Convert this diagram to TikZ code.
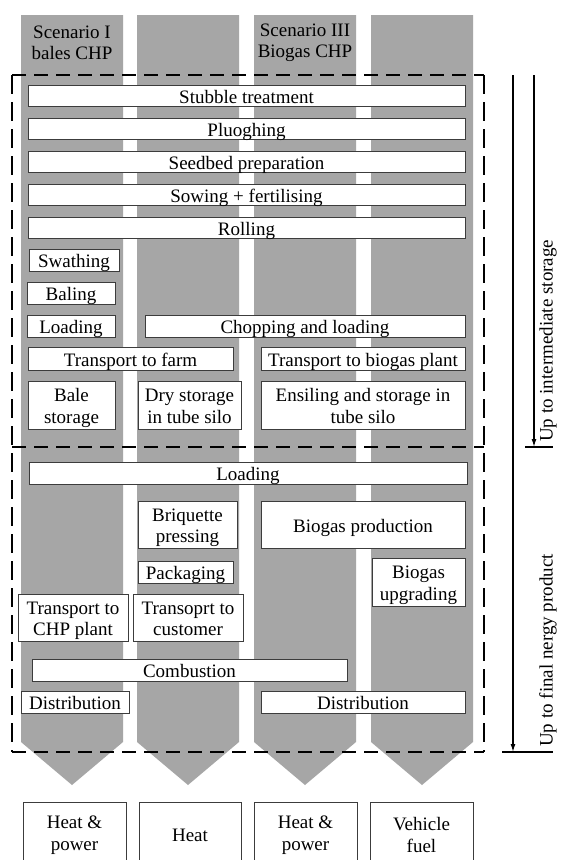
\documentclass[tikz,border=0pt]{standalone}
\usepackage{fontspec}
\setmainfont{Liberation Serif}
\usetikzlibrary{arrows.meta}
\definecolor{colfill}{RGB}{166,166,166}
\definecolor{boxline}{RGB}{60,60,60}
\newcommand\twolines[2]{\raisebox{-3pt}[\height][\depth]{\begin{tabular}{@{}c@{}}#1\\#2\end{tabular}}}
\begin{document}
\begin{tikzpicture}[x=1pt,y=-1pt,
  font=\fontsize{19}{21.5}\selectfont,
  pbox/.style={draw=boxline, fill=white, line width=1pt, inner sep=0pt, text height=16pt, text depth=1pt},
  pbox2/.style={draw=boxline, fill=white, line width=1pt, inner sep=0pt},
  colshape/.style={fill=colfill, draw=none},
  dashv/.style={line width=2pt, dash pattern=on 19pt off 8pt},
  dashh/.style={line width=2pt, dash pattern=on 14pt off 8pt},
  arr/.style={line width=1.3pt, -{Latex[length=8pt,width=5pt]}},
  bar/.style={line width=2pt}]
\useasboundingbox (0,0) rectangle (561,860);
\fill[white] (0,0) rectangle (561,860);
% columns
\foreach \l/\r in {21/123,137/239,254/356,371/473}{
  \fill[colshape] (\l,15) -- (\r,15) -- (\r,742) -- ({(\l+\r)/2},785) -- (\l,742) -- cycle;
}
% scenario labels
\node[align=center, inner sep=0pt] (scen1) at (72,43) {Scenario I\\bales CHP};
\node[align=center, inner sep=0pt] (scen3) at (305,43) {Scenario III\\Biogas CHP};
% field operations
\node[pbox, minimum width=437pt, minimum height=21pt] (stubble) at (246.5,95.5) {Stubble treatment};
\node[pbox, minimum width=437pt, minimum height=21pt] (plough) at (246.5,128.5) {Pluoghing};
\node[pbox, minimum width=437pt, minimum height=21pt] (seedbed) at (246.5,161.5) {Seedbed preparation};
\node[pbox, minimum width=437pt, minimum height=21pt] (sowing) at (246.5,194.5) {Sowing + fertilising};
\node[pbox, minimum width=437pt, minimum height=21pt] (rolling) at (246.5,227.5) {Rolling};
\node[pbox, minimum width=90pt, minimum height=22pt] (swathing) at (74,260) {Swathing};
\node[pbox, minimum width=88pt, minimum height=22pt] (baling) at (71,293) {Baling};
\node[pbox, minimum width=88pt, minimum height=22pt] (loadA) at (71,326) {Loading};
\node[pbox, minimum width=320pt, minimum height=22pt] (chopping) at (305,326) {Chopping and loading};
\node[pbox, minimum width=205pt, minimum height=23pt] (transfarm) at (130.5,358.5) {Transport to farm};
\node[pbox, minimum width=204pt, minimum height=23pt] (transbio) at (363,358.5) {Transport to biogas plant};
\node[pbox2, minimum width=87pt, minimum height=48pt] (balestore) at (71.5,405) {\twolines{Bale}{storage}};
\node[pbox2, minimum width=103pt, minimum height=48pt] (drystore) at (189.5,405) {\twolines{Dry storage}{in tube silo}};
\node[pbox2, minimum width=204pt, minimum height=48pt] (ensiling) at (363,405) {\twolines{Ensiling and storage in}{tube silo}};
% processing
\node[pbox, minimum width=438pt, minimum height=22pt] (loadB) at (248,473) {Loading};
\node[pbox2, minimum width=99pt, minimum height=47pt] (briquette) at (187.5,524.5) {\twolines{Briquette}{pressing}};
\node[pbox, minimum width=204pt, minimum height=47pt] (biogasprod) at (363,524.5) {Biogas production};
\node[pbox, minimum width=95pt, minimum height=22pt] (packaging) at (185.5,572) {Packaging};
\node[pbox2, minimum width=93pt, minimum height=48pt] (upgrading) at (418.5,582) {\twolines{Biogas}{upgrading}};
\node[pbox2, minimum width=110pt, minimum height=47pt] (transchp) at (73,617.5) {\twolines{Transport to}{CHP plant}};
\node[pbox2, minimum width=110pt, minimum height=47pt] (transcust) at (188,617.5) {\twolines{Transoprt to}{customer}};
\node[pbox, minimum width=315pt, minimum height=22pt] (combustion) at (189.5,670) {Combustion};
\node[pbox, minimum width=108pt, minimum height=22pt] (distA) at (75,702) {Distribution};
\node[pbox, minimum width=204pt, minimum height=22pt] (distB) at (363,702) {Distribution};
% products
\node[pbox2, align=center, minimum width=103pt, minimum height=66pt] (prod1) at (74.5,835) {Heat \&\\power};
\node[pbox2, align=center, minimum width=102pt, minimum height=66pt] (prod2) at (190,835) {Heat};
\node[pbox2, align=center, minimum width=103pt, minimum height=66pt] (prod3) at (305.5,835) {Heat \&\\power};
\node[pbox2, align=center, minimum width=103pt, minimum height=66pt] (prod4) at (421.5,835) {Vehicle\\fuel};
% dashed frame
\coordinate (dTL) at (12,75);
\coordinate (dTR) at (484,75);
\coordinate (dML) at (12,447);
\coordinate (dMR) at (484,447);
\coordinate (dBL) at (12,752);
\coordinate (dBR) at (484,752);
\draw[dashh] (dTL) -- (dTR);
\draw[dashh] (dML) -- (dMR);
\draw[dashh] (dBL) -- (dBR);
\draw[dashv] (dTL) -- (dBL);
\draw[dashv] (dTR) -- (dBR);
% scope arrows
\coordinate (finS) at (513,75);
\coordinate (finE) at (513,752);
\coordinate (finBL) at (502,752);
\coordinate (finBR) at (553,752);
\coordinate (intS) at (534,75);
\coordinate (intE) at (534,447);
\coordinate (intBL) at (525,447);
\coordinate (intBR) at (553,447);
\draw[arr] (finS) -- (finE);
\draw[bar] (finBL) -- (finBR);
\draw[arr] (intS) -- (intE);
\draw[bar] (intBL) -- (intBR);
\node[rotate=90, anchor=west, inner sep=0pt] (intlabel) at (548,442) {Up to intermediate storage};
\node[rotate=90, anchor=west, inner sep=0pt] (finlabel) at (548,747) {Up to final nergy product};
\end{tikzpicture}
\end{document}
